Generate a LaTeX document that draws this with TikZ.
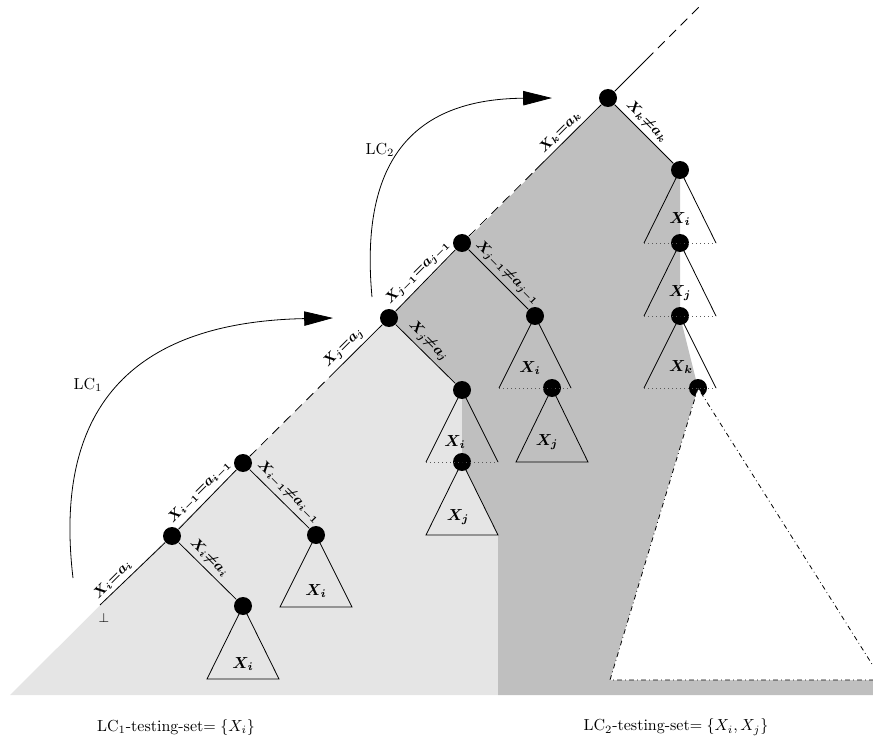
\documentclass[tikz,border=0pt]{standalone}
\usetikzlibrary{arrows.meta,calc}
\definecolor{lcone}{gray}{0.90}
\definecolor{lctwo}{gray}{0.75}

\begin{document}
\begin{tikzpicture}[x=0.625pt, y=-0.625pt, line width=0.5pt,
    >={Triangle[length=18pt,width=9pt]},
    dot/.style={circle, fill=black, inner sep=0pt, minimum size=11.25pt},
    lbl/.style={inner sep=2.5pt, font=\small\boldmath},
    gap/.style={dash pattern=on 6pt off 4pt},
    cut/.style={dotted, gray!70!black},
    rest/.style={dash dot, fill=white}]
  \useasboundingbox (0,0) rectangle (873,747);

  % shaded parts
  \fill[lcone] (10,695) -- (389,318) -- (462,390) -- (462,462) -- (498,535)
      -- (498,695) -- cycle;
  \fill[lctwo] (389,318) -- (608,98) -- (680,170) -- (680,316) -- (698,388)
      -- (610,680) -- (873,680) -- (873,695) -- (498,695) -- (498,535)
      -- (462,462) -- (462,390) -- cycle;

  % the path of assignments
  \coordinate (bot) at (100,605);
  \node[dot] (a) at (172,536) {};
  \node[dot] (b) at (243,463) {};
  \node[dot] (c) at (389,318) {};
  \node[dot] (d) at (462,243) {};
  \node[dot] (e) at (608,98) {};
  \coordinate (top) at (700,6);
  \node[font=\footnotesize] (perp) at (104,618) {$\bot$};

  \draw (bot) -- (a) node[lbl, pos=0.3, above, rotate=45] {$X_i {=} a_i$};
  \draw (a) -- (b) node[lbl, pos=0.5, above, rotate=45] {$X_{i-1} {=} a_{i-1}$};
  \coordinate (bc) at ($(b)!0.6!(c)$);
  \draw[gap] (b) -- (bc);
  \draw (bc) -- (c) node[lbl, pos=0.4, above, rotate=45] {$X_j {=} a_j$};
  \draw (c) -- (d) node[lbl, pos=0.5, above, rotate=45] {$X_{j-1} {=} a_{j-1}$};
  \coordinate (de) at ($(d)!0.5!(e)$);
  \draw[gap] (d) -- (de);
  \draw (de) -- (e) node[lbl, pos=0.48, above, rotate=45] {$X_k {=} a_k$};
  \coordinate (ef) at ($(e)!0.42!(top)$);
  \draw (e) -- (ef);
  \draw[gap] (ef) -- (top);

  % the other branches
  \node[dot] (a1) at (243,606) {};
  \node[dot] (b1) at (316,535) {};
  \node[dot] (c1) at (462,390) {};
  \node[dot] (c2) at (462,462) {};
  \node[dot] (d1) at (535,316) {};
  \node[dot] (d2) at (552,388) {};
  \node[dot] (e1) at (680,170) {};
  \node[dot] (e2) at (680,243) {};
  \node[dot] (e3) at (680,316) {};
  \node[dot] (e4) at (698,388) {};

  \draw (a) -- (a1) node[lbl, pos=0.4, above, rotate=-45] {$X_i {\neq} a_i$};
  \draw (b) -- (b1) node[lbl, pos=0.52, above, rotate=-45] {$X_{i-1} {\neq} a_{i-1}$};
  \draw (c) -- (c1) node[lbl, pos=0.42, above, rotate=-45] {$X_j {\neq} a_j$};
  \draw (d) -- (d1) node[lbl, pos=0.52, above, rotate=-45] {$X_{j-1} {\neq} a_{j-1}$};
  \draw (e) -- (e1) node[lbl, pos=0.42, above, rotate=-45] {$X_k {\neq} a_k$};

  % subtrees
  \draw (a1.center) -- +(-36,73) -- +(36,73) -- cycle;
  \draw (b1.center) -- +(-36,72) -- +(36,72) -- cycle;
  \draw (c1.center) -- +(-36,72) (c1.center) -- +(36,72);
  \draw[cut] (c1.center) ++(-36,72) -- ++(72,0);
  \draw (c2.center) -- +(-36,73) -- +(36,73) -- cycle;
  \draw (d1.center) -- +(-36,72) (d1.center) -- +(36,72);
  \draw[cut] (d1.center) ++(-36,72) -- ++(72,0);
  \draw (d2.center) -- +(-36,74) -- +(36,74) -- cycle;
  \draw (e1.center) -- +(-36,73) (e1.center) -- +(36,73);
  \draw[cut] (e1.center) ++(-36,73) -- ++(72,0);
  \draw (e2.center) -- +(-36,73) (e2.center) -- +(36,73);
  \draw[cut] (e2.center) ++(-36,73) -- ++(72,0);
  \draw (e3.center) -- +(-36,72) (e3.center) -- +(36,72);
  \draw[cut] (e3.center) ++(-36,72) -- ++(72,0);
  \draw[rest] (e4.center) -- (610,680) -- (882,680) -- cycle;

  \node[font=\boldmath] (ta1) at (243,664) {$X_i$};
  \node[font=\boldmath] (tb1) at (316,591) {$X_i$};
  \node[font=\boldmath] (tc1) at (455,442) {$X_i$};
  \node[font=\boldmath] (tc2) at (458,517) {$X_j$};
  \node[font=\boldmath] (td1) at (530,368) {$X_i$};
  \node[font=\boldmath] (td2) at (547,442) {$X_j$};
  \node[font=\boldmath] (te1) at (680,219) {$X_i$};
  \node[font=\boldmath] (te2) at (680,293) {$X_j$};
  \node[font=\boldmath] (te3) at (681,367) {$X_k$};

  % learnt-clause jumps
  \coordinate (lc1s) at (73,578);
  \coordinate (lc1e) at (333,318);
  \draw[->] (lc1s) .. controls (52,400) and (140,322) .. (lc1e);
  \node (lc1) at (88,385) {LC$_1$};
  \coordinate (lc2s) at (372,297);
  \coordinate (lc2e) at (552,98);
  \draw[->] (lc2s) .. controls (359,156) and (417,99) .. (lc2e);
  \node (lc2) at (380,150) {LC$_2$};

  \node (set1) at (176,727) {LC$_1$-testing-set$= \{X_i\}$};
  \node (set2) at (676,727) {LC$_2$-testing-set$= \{X_i, X_j\}$};
\end{tikzpicture}
\end{document}
